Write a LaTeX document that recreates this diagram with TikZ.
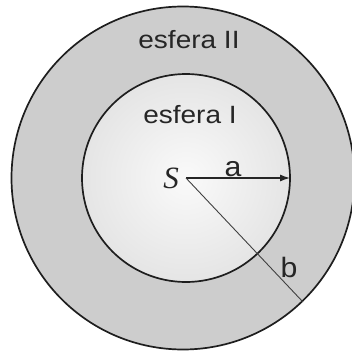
\documentclass[tikz,border=0pt]{standalone}
\usepackage{fontspec}
\setmainfont{Liberation Sans}
\newfontfamily\timesfont{Liberation Serif}
\usetikzlibrary{arrows.meta}
\definecolor{ringgray}{RGB}{205,205,205}
\definecolor{innergray}{RGB}{208,208,208}
\definecolor{linedark}{RGB}{30,30,30}
\pgfdeclareradialshading{sphereshade}{\pgfpoint{0bp}{0bp}}{color(0bp)=(white!98!black); color(12bp)=(white!94!black); color(50bp)=(innergray)}
\tikzset{
  ring/.style={circle, draw=linedark, line width=1.7pt, inner sep=0pt, outer sep=0pt},
  lbl/.style={anchor=base, inner sep=0pt, font=\fontsize{25}{28}\selectfont, text=black!85},
  radius arrow/.style={draw=black!85, line width=1.2pt, -{Latex[length=10pt,width=7pt]}},
  radius line/.style={draw=black!75, line width=0.9pt}
}
\begin{document}
\begin{tikzpicture}[x=1pt,y=-1pt]
\useasboundingbox (0,0) rectangle (351,356);
\fill[white] (0,0) rectangle (351,356);
\node[ring, fill=ringgray, minimum size=343pt] (outer) at (183,178) {};
\node[ring, shade, shading=sphereshade, minimum size=208pt] (inner) at (186,178) {};
\coordinate (S) at (186,178);
\coordinate (bend) at (303,302);
\draw[radius arrow] (S) -- (inner.east);
\draw[radius line] (S) -- (bend);
\node[lbl] (e2) at (189,48) {\scalebox{1.12}[1]{esfera II}};
\node[lbl] (e1) at (190,123) {\scalebox{1.12}[1]{esfera I}};
\node[lbl, font=\fontsize{28}{30}\selectfont] (a) at (233,176) {\scalebox{1.08}[1]{a}};
\node[lbl, font=\fontsize{28}{30}\selectfont] (b) at (289,277) {\scalebox{1.08}[1]{b}};
\node[lbl, font=\timesfont\itshape\fontsize{31}{33}\selectfont] (s) at (171,188) {S};
\end{tikzpicture}
\end{document}
